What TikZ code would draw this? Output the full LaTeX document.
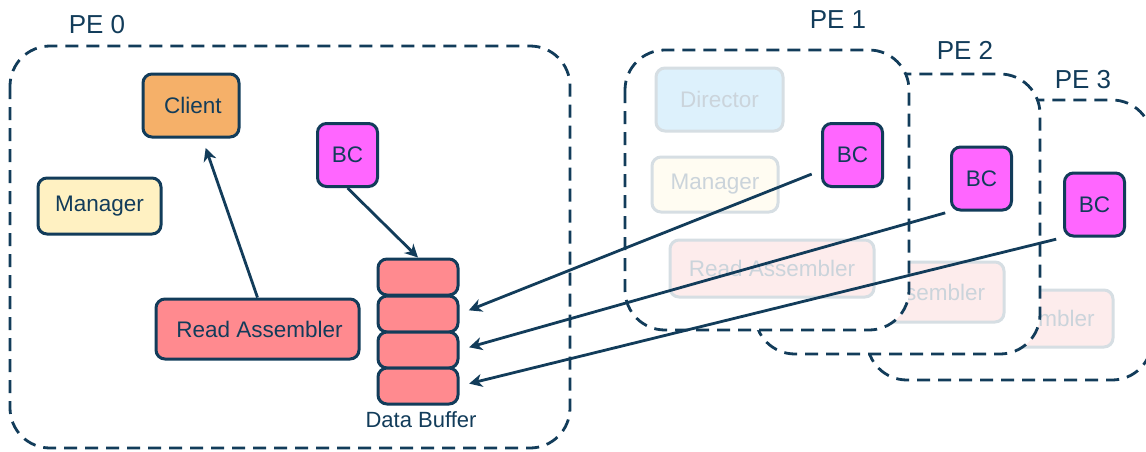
\documentclass[tikz,border=0pt]{standalone}
\usepackage{fontspec}
\setmainfont{Liberation Sans}
\usepackage{tikz}
\usetikzlibrary{arrows.meta}
\definecolor{navy}{RGB}{18,60,90}
\definecolor{clientfill}{RGB}{245,176,105}
\definecolor{mgrfill}{RGB}{255,241,194}
\definecolor{bcfill}{RGB}{255,102,255}
\definecolor{rafill}{RGB}{255,138,143}
\definecolor{fadeline}{RGB}{214,222,227}
\definecolor{fadetext}{RGB}{203,212,219}
\definecolor{dirfade}{RGB}{221,241,252}
\definecolor{mgrfade}{RGB}{255,252,242}
\definecolor{rafade}{RGB}{253,236,236}
\tikzset{
	pebox/.style={draw=navy, line width=2.8pt, dash pattern=on 13pt off 8pt, rounded corners=40pt, fill=white},
	pelabel/.style={text=navy, font=\fontsize{26}{30}\selectfont},
	comp/.style={draw=navy, line width=3pt, rounded corners=9pt, text=navy, font=\fontsize{22.5}{26}\selectfont, inner sep=0pt},
	faded/.style={draw=fadeline, line width=3pt, rounded corners=9pt, text=fadetext, font=\fontsize{22.5}{26}\selectfont, inner sep=0pt},
	bcnode/.style={comp, fill=bcfill, minimum width=60pt, minimum height=63pt},
	cell/.style={comp, fill=rafill, minimum width=80pt, minimum height=36pt},
	link/.style={draw=navy, line width=2.8pt, -{Stealth[length=13pt, width=13pt, inset=4pt]}}
}

\begin{document}
\begin{tikzpicture}[x=1pt, y=-1pt]
		%%%%% START %%%%%
		\useasboundingbox (0, 0) rectangle (1146, 451);
		
		% PE 3 (back)
		\draw[pebox] (867, 100) rectangle (1152, 380);
		\node[pelabel] (pe3) at (1083, 80) {PE 3};
		\node[faded, fill=rafade, minimum width=203pt, minimum height=57pt] (ra3) at (1011.5, 318.5) {Read Assembler};
		\node[bcnode] (bc3) at (1094.5, 204.5) {BC};
		
		% PE 2
		\draw[pebox] (755, 74) rectangle (1040, 354);
		\node[pelabel] (pe2) at (965, 50) {PE 2};
		\node[faded, fill=rafade, minimum width=204pt, minimum height=60pt] (ra2) at (902, 292) {Read Assembler};
		\node[bcnode] (bc2) at (981.5, 178.5) {BC};
		
		% PE 1
		\draw[pebox] (625, 50) rectangle (909, 330);
		\node[pelabel] (pe1) at (838, 20) {PE 1};
		\node[faded, fill=dirfade, minimum width=127pt, minimum height=63pt] (dir1) at (719.5, 99.5) {Director};
		\node[faded, fill=mgrfade, minimum width=126pt, minimum height=55pt] (mgr1) at (715, 184.5) {Manager};
		\node[faded, fill=rafade, minimum width=204pt, minimum height=57pt] (ra1) at (772, 268.5) {Read Assembler};
		\node[bcnode] (bc1) at (852.5, 155) {BC};
		
		% PE 0
		\draw[pebox] (10, 46) rectangle (570, 448);
		\node[pelabel] (pe0) at (97, 25) {PE 0};
		\node[comp, fill=clientfill, minimum width=96pt, minimum height=63pt] (client) at (191, 105.5) {\hspace{4pt}Client};
		\node[comp, fill=mgrfill, minimum width=123pt, minimum height=56pt] (mgr0) at (99.5, 206) {Manager};
		\node[bcnode] (bc0) at (347.5, 155) {BC};
		\node[comp, fill=rafill, minimum width=203pt, minimum height=60pt] (ra0) at (257.5, 329) {\hspace{4pt}Read Assembler};
		
		% data buffer
		\node[cell] (buf1) at (418, 277) {};
		\node[cell] (buf2) at (418, 314) {};
		\node[cell] (buf3) at (418, 350) {};
		\node[cell] (buf4) at (418, 386) {};
		\node[text=navy, font=\fontsize{22}{26}\selectfont] (buflabel) at (421, 420) {Data Buffer};
		
		% links
		\draw[link, shorten >=10pt] (ra0.north) -- (client);
		\draw[link] (bc0.south) -- (buf1.north);
		\draw[link, shorten <=10pt, shorten >=10pt] (bc1.206) -- (buf2.east);
		\draw[link, shorten <=5pt, shorten >=10pt] (bc2.south west) -- (buf3.east);
		\draw[link, shorten <=7pt, shorten >=10pt] (bc3.south west) -- (buf4.east);
		
		%%%%% END %%%%%
	\end{tikzpicture}
\end{document}
